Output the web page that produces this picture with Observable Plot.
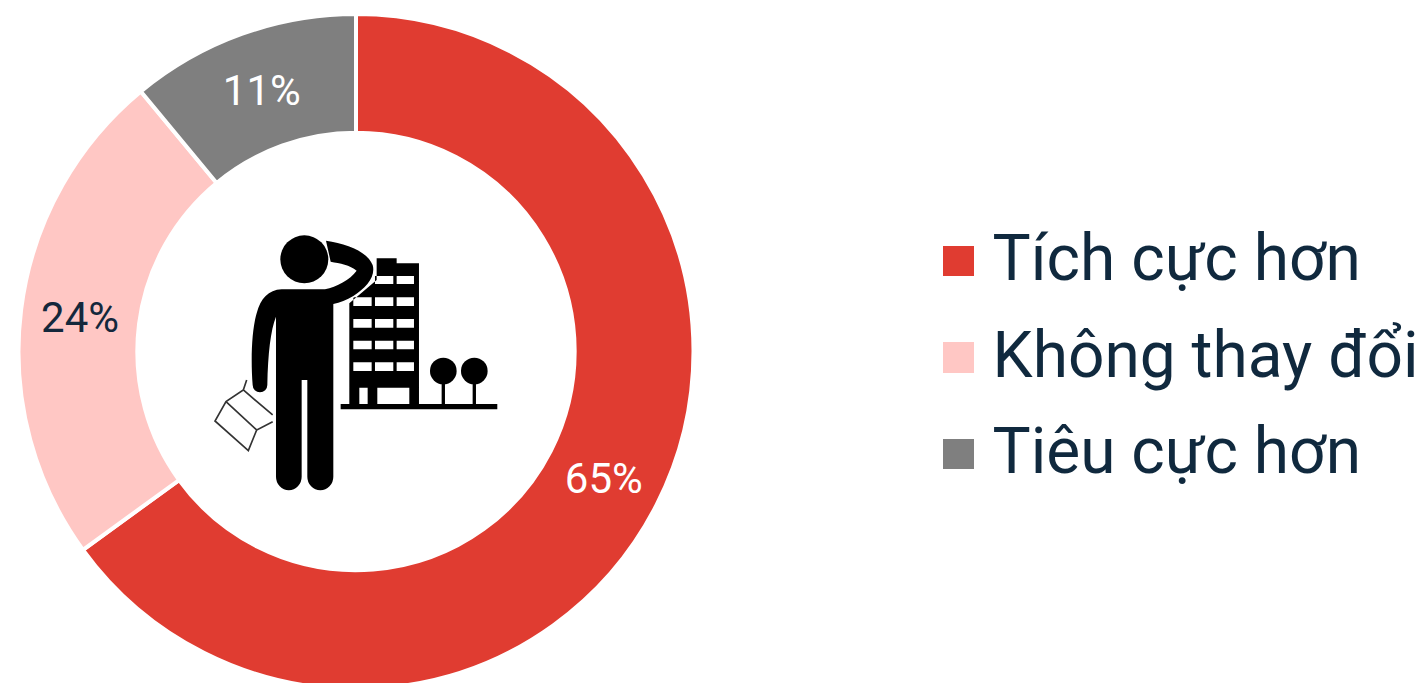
<!DOCTYPE html>
<html lang="vi">
<head>
<meta charset="utf-8">
<script src="https://cdn.jsdelivr.net/npm/d3@7"></script>
<script src="https://cdn.jsdelivr.net/npm/@observablehq/plot@0.6"></script>
<style>
  html, body { margin: 0; padding: 0; background: #fff; overflow: hidden; }
  #chart { position: relative; width: 1427px; height: 683px; overflow: hidden; }
  #chart svg { display: block; position: absolute; left: 0; top: 0; }
  #legend { position: absolute; left: 943px; top: 212.5px; font-family: Roboto, sans-serif; font-size: 64px; color: #10293e; }
  #legend .row { display: flex; align-items: center; height: 96.5px; white-space: nowrap; }
  #legend .swatch { width: 30.5px; height: 30.5px; margin-right: 19px; flex: none; }
  #legend .name { position: relative; top: -2px; }
</style>
</head>
<body>
<div id="chart"></div>
<script>
// Share of respondents per outlook, clockwise from twelve o'clock
const categories = ["Tích cực hơn", "Không thay đổi", "Tiêu cực hơn"];
const shares = [65, 24, 11];
const sliceColors = ["#e03c31", "#ffc7c4", "#7f7f7f"];
const labelColors = ["#ffffff", "#14283c", "#ffffff"];
const innerRatio = 221 / 336;
const separatorWidth = 4;

// Angular extents of each slice, plus its mid-ring position in unit coordinates
const total = d3.sum(shares);
let running = 0;
const slices = categories.map((category, i) => {
  const startAngle = (running / total) * 2 * Math.PI;
  running += shares[i];
  const endAngle = (running / total) * 2 * Math.PI;
  const mid = (startAngle + endAngle) / 2;
  const ring = (1 + innerRatio) / 2;
  return {
    category,
    share: shares[i],
    labelColor: labelColors[i],
    startAngle,
    endAngle,
    cx: ring * Math.sin(mid),
    cy: ring * Math.cos(mid)
  };
});

// Turns each datum into a ring segment placed through the x and y scales.
// The radii are widened by half a separator so the white stroke only shows between slices.
function renderRing(index, scales, values) {
  const originX = scales.x(0);
  const originY = scales.y(0);
  const outer = scales.x(1) - originX;
  const arc = d3.arc()
    .innerRadius(outer * innerRatio - separatorWidth / 2)
    .outerRadius(outer + separatorWidth / 2);
  const g = d3.create("svg:g").attr("transform", `translate(${originX},${originY})`);
  g.selectAll("path")
    .data(index)
    .join("path")
    .attr("d", (i) => arc(slices[i]))
    .attr("fill", (i) => values.fill[i])
    .attr("stroke", "#fff")
    .attr("stroke-width", separatorWidth)
    .attr("stroke-linejoin", "miter");
  return g.node();
}

// Pictogram of a person with a bag, scratching their head in front of an office block
function renderPictogram() {
  const g = d3.create("svg:g").attr("transform", "translate(200,220) scale(0.3333)");
  const building = "M530 115H590V130H657V555H448V250L530 180Z" +
    "M590 168V192H642V168Z M525 168V192H580V168Z" +
    "M460 232V258H515V232Z M525 232V258H580V232Z M590 232V258H642V232Z" +
    "M460 297V323H515V297Z M525 297V323H580V297Z M590 297V323H642V297Z" +
    "M460 362V388H515V362Z M525 362V388H580V362Z M590 362V388H642V362Z" +
    "M460 427V453H515V427Z M525 427V453H580V427Z M590 427V453H642V427Z" +
    "M478 503V552H503V503Z M532 503V552H628V503Z";
  g.append("path").attr("d", building).attr("fill", "#000").attr("fill-rule", "evenodd");
  g.append("path").attr("d", "M422 552H892V568H422Z").attr("fill", "#000");
  for (const x of [730, 823]) {
    g.append("circle").attr("cx", x).attr("cy", 453).attr("r", 40).attr("fill", "#000");
    g.append("rect").attr("x", x - 5).attr("y", 485).attr("width", 10).attr("height", 70).attr("fill", "#000");
  }
  const person = "M378 62C440 72 500 92 518 135C528 170 498 205 460 228C440 240 420 248 400 252" +
    "V770A38 40 0 0 1 322 770V480H305V770A38 40 0 0 1 228 770V290" +
    "C212 330 204 400 202 495A22 22 0 0 1 158 495C152 420 155 330 170 280" +
    "C182 235 205 210 245 208H375C410 200 450 180 470 152C450 135 420 130 392 125Z";
  g.append("path")
    .attr("d", person)
    .attr("fill", "#000")
    .attr("stroke", "#fff")
    .attr("stroke-width", 9)
    .attr("paint-order", "stroke");
  g.append("circle").attr("cx", 313).attr("cy", 118).attr("r", 72).attr("fill", "#000");
  g.append("path")
    .attr("d", "M140 480L130 510L78 545L45 603L145 692L170 630L218 605M130 510L218 585M78 545L170 630")
    .attr("fill", "none")
    .attr("stroke", "#333")
    .attr("stroke-width", 5);
  return g.node();
}

const chart = Plot.plot({
  width: 1427,
  height: 683,
  margin: 0,
  style: { background: "transparent", fontFamily: "Roboto, sans-serif" },
  x: { domain: [-1, 1], range: [20.5, 691.5], axis: null },
  y: { domain: [-1, 1], range: [687, 16], axis: null },
  color: { domain: categories, range: sliceColors },
  marks: [
    Plot.dot(slices, { x: "cx", y: "cy", fill: "category", render: renderRing }),
    Plot.text(slices, {
      x: "cx",
      y: "cy",
      dx: -0.5,
      dy: 1.5,
      text: (d) => `${d.share}%`,
      fill: "labelColor",
      fontSize: 42,
      fontWeight: 400
    }),
    renderPictogram
  ]
});

const root = document.getElementById("chart");
root.append(chart);

// Legend keyed to the chart's colour scale
const legend = d3.select(root).append("div").attr("id", "legend");
const rows = legend.selectAll("div").data(categories).join("div").attr("class", "row");
rows.append("span").attr("class", "swatch").style("background", (d) => chart.scale("color").apply(d));
rows.append("span").attr("class", "name").text((d) => d);
</script>
</body>
</html>
